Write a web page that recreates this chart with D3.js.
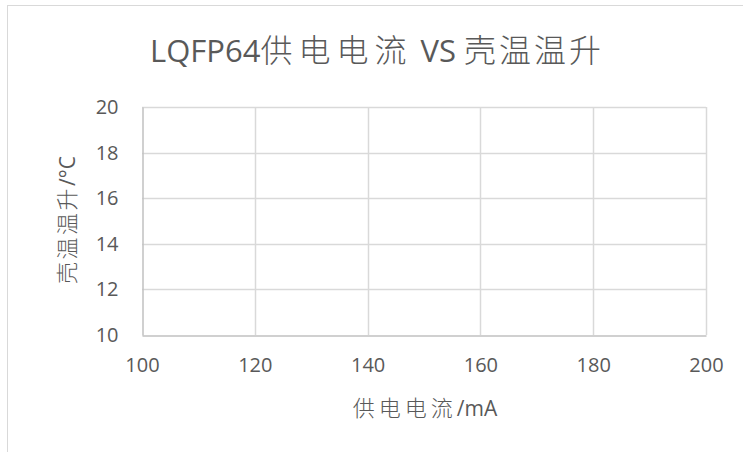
<!DOCTYPE html>
<html>
<head>
<meta charset="utf-8">
<script src="https://cdn.jsdelivr.net/npm/d3@7"></script>
<style>
  html, body { margin: 0; padding: 0; background: #fff; }
  text { font-family: "Open Sans", "Noto Sans CJK SC", sans-serif; fill: #595959; }
</style>
</head>
<body>
<div id="chart"></div>
<script>
// Data: the reference chart has no plotted points, only the empty axes
const currentMA = [];   // 供电电流 /mA
const tempRise = [];    // 壳温温升 /°C
const xTicks = [100, 120, 140, 160, 180, 200];
const yTicks = [10, 12, 14, 16, 18, 20];

const titleParts = [
    { text: "LQFP64", cjk: false },
    { text: "供电电流", cjk: true, spacing: 6 },
    { text: " VS ", cjk: false },
    { text: "壳温温升", cjk: true, spacing: 3 }
];
const xTitleParts = [
    { text: "供电电流", cjk: true, spacing: 4 },
    { text: "/mA", cjk: false }
];
const yTitleParts = [
    { text: "壳温温升", cjk: true, spacing: 2.5 },
    { text: "/°C", cjk: false }
];

const width = 743;
const height = 452;

// Plot area
const plotLeft = 142, plotRight = 706, plotTop = 107, plotBottom = 335;

const svg = d3.select('#chart')
    .append('svg')
    .attr('width', width)
    .attr('height', height);

// Chart frame (runs off the right and bottom edges)
svg.append("rect")
    .attr("x", 7.5)
    .attr("y", 5.5)
    .attr("width", 900)
    .attr("height", 600)
    .attr("fill", "#fff")
    .attr("stroke", "#d9d9d9")
    .attr("stroke-width", 1);

const x = d3.scaleLinear().domain([100, 200]).range([plotLeft, plotRight]);
const y = d3.scaleLinear().domain([10, 20]).range([plotBottom, plotTop]);

// Gridlines
svg.append("g")
    .selectAll("line")
    .data(xTicks.slice(1))
    .join("line")
    .attr("x1", d => Math.round(x(d)) + 0.5)
    .attr("x2", d => Math.round(x(d)) + 0.5)
    .attr("y1", plotTop)
    .attr("y2", plotBottom)
    .attr("stroke", "#d9d9d9")
    .attr("stroke-width", 1.5);

svg.append("g")
    .selectAll("line")
    .data(yTicks.slice(1))
    .join("line")
    .attr("x1", plotLeft)
    .attr("x2", plotRight)
    .attr("y1", d => Math.round(y(d)) + 0.5)
    .attr("y2", d => Math.round(y(d)) + 0.5)
    .attr("stroke", "#d9d9d9")
    .attr("stroke-width", 1.5);

// Axis lines (left and bottom)
const xAxis = svg.append("g")
    .attr("transform", `translate(0,${plotBottom + 0.5})`)
    .call(d3.axisBottom(x).tickValues(xTicks).tickSize(0).tickPadding(22));
xAxis.select(".domain").attr("stroke", "#c0c0c0").attr("stroke-width", 1.5);
xAxis.selectAll("text")
    .attr("font-size", 20)
    .attr("fill", "#595959")
    .attr("font-family", "Open Sans, sans-serif");

const yAxis = svg.append("g")
    .attr("transform", `translate(${plotLeft + 0.5},0)`)
    .call(d3.axisLeft(y).tickValues(yTicks).tickSize(0).tickPadding(24));
yAxis.select(".domain").attr("stroke", "#c0c0c0").attr("stroke-width", 1.5);
yAxis.selectAll("text")
    .attr("font-size", 20)
    .attr("fill", "#595959")
    .attr("font-family", "Open Sans, sans-serif");

// Points (none in the reference)
svg.append("g")
    .selectAll("circle")
    .data(currentMA.map((c, i) => [c, tempRise[i]]))
    .join("circle")
    .attr("cx", d => x(d[0]))
    .attr("cy", d => y(d[1]))
    .attr("r", 4)
    .attr("fill", "#4472c4");

// helper: text made of latin and CJK pieces
function addParts(textSel, parts, latinSize, cjkSize) {
    textSel.selectAll("tspan")
        .data(parts)
        .join("tspan")
        .attr("font-size", d => d.cjk ? cjkSize : latinSize)
        .attr("font-weight", d => d.cjk ? 300 : 400)
        .attr("letter-spacing", d => d.spacing || 0)
        .style("white-space", "pre")
        .text(d => d.text);
}

// Title
const title = svg.append("text")
    .attr("x", 377)
    .attr("y", 62)
    .attr("text-anchor", "middle")
    .attr("xml:space", "preserve");
addParts(title, titleParts, 31, 32);

// X axis title
const xTitle = svg.append("text")
    .attr("x", 425)
    .attr("y", 416)
    .attr("text-anchor", "middle");
addParts(xTitle, xTitleParts, 21, 22);

// Y axis title
const yTitle = svg.append("text")
    .attr("transform", "translate(75,220) rotate(-90)")
    .attr("text-anchor", "middle");
addParts(yTitle, yTitleParts, 21, 22);
</script>
</body>
</html>
